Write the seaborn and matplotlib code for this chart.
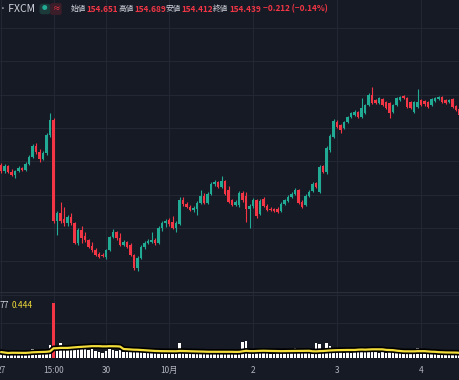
import numpy as np
import pandas as pd
import matplotlib
matplotlib.use("Agg")
import matplotlib.pyplot as plt
from matplotlib import patheffects as pe
import seaborn as sns

# 1時間足 (index 0 = 9/27 00:00, 週末はスキップ)
opens = [
    144.89, 144.71, 144.86, 144.68, 144.59, 144.71, 144.80, 144.74, 144.92, 145.13,
    145.46, 145.28, 145.07, 145.25, 145.79, 146.24, 143.21, 143.45, 143.27, 143.15,
    143.33, 143.15, 142.55, 142.94, 142.76, 142.64, 142.46, 142.34, 142.22, 142.19,
    142.13, 142.34, 142.73, 142.88, 142.70, 142.49, 142.58, 142.49, 142.19, 141.80,
    142.10, 142.43, 142.55, 142.58, 142.64, 142.55, 143.00, 143.15, 143.24, 143.18,
    143.00, 143.12, 143.84, 143.72, 143.63, 143.54, 143.57, 143.75, 143.96, 143.75,
    144.02, 144.32, 144.38, 144.23, 144.41, 144.14, 143.84, 143.69, 143.69, 144.05,
    143.96, 143.57, 143.66, 143.84, 143.42, 143.87, 143.66, 143.57, 143.57, 143.57,
    143.51, 143.72, 143.81, 143.93, 144.02, 144.14, 143.78, 143.69, 143.96, 144.11,
    144.35, 144.08, 144.86, 144.68, 145.34, 145.73, 146.18, 146.09, 146.00, 146.18,
    146.33, 146.39, 146.48, 146.33, 146.45, 146.69, 146.99, 146.84, 146.75, 146.87,
    146.78, 146.75, 146.48, 146.69, 146.84, 146.96, 146.90, 146.78, 146.48, 146.63,
    146.84, 146.81, 146.78, 146.69, 146.81, 146.87, 146.93, 146.84, 146.78, 146.87,
    146.66, 146.57]
highs = [
    144.95, 144.92, 144.89, 144.77, 144.74, 144.86, 144.83, 144.98, 145.19, 145.52,
    145.55, 145.37, 145.31, 145.85, 146.45, 146.30, 143.51, 143.78, 143.63, 143.39,
    143.45, 143.18, 143.00, 143.06, 142.88, 142.67, 142.58, 142.40, 142.28, 142.25,
    142.37, 142.76, 142.97, 142.91, 142.85, 142.64, 142.61, 142.55, 142.22, 142.16,
    142.49, 142.61, 142.67, 142.88, 142.70, 143.06, 143.21, 143.27, 143.30, 143.36,
    143.21, 143.93, 143.93, 143.78, 143.69, 143.66, 143.81, 144.14, 144.05, 144.08,
    144.38, 144.44, 144.41, 144.56, 144.44, 144.26, 143.87, 143.84, 144.11, 144.11,
    144.08, 143.72, 143.90, 143.87, 143.87, 143.93, 143.72, 143.63, 143.60, 143.63,
    143.78, 143.87, 143.99, 144.08, 144.20, 144.17, 143.84, 144.02, 144.14, 144.38,
    144.38, 144.89, 144.89, 145.46, 145.82, 146.27, 146.24, 146.12, 146.21, 146.36,
    146.48, 146.54, 146.51, 146.90, 146.72, 147.05, 147.23, 146.87, 146.93, 146.90,
    146.81, 146.78, 146.72, 146.93, 146.96, 146.99, 146.93, 146.81, 146.81, 147.17,
    146.87, 146.84, 146.81, 146.90, 146.93, 146.96, 146.96, 146.87, 146.87, 146.90,
    146.69, 146.60]
lows = [
    144.65, 144.65, 144.65, 144.56, 144.50, 144.68, 144.71, 144.71, 144.89, 145.10,
    145.22, 144.98, 145.04, 145.19, 145.73, 143.15, 142.79, 143.15, 143.06, 143.06,
    143.09, 142.52, 142.49, 142.55, 142.58, 142.40, 142.28, 142.16, 142.10, 142.13,
    142.07, 142.31, 142.70, 142.64, 142.46, 142.46, 142.40, 142.16, 141.74, 141.71,
    142.07, 142.37, 142.52, 142.55, 142.49, 142.52, 142.91, 143.03, 143.06, 142.97,
    142.88, 143.09, 143.66, 143.60, 143.51, 143.48, 143.39, 143.72, 143.72, 143.72,
    143.99, 144.26, 144.20, 144.20, 143.99, 143.75, 143.66, 143.66, 143.63, 143.78,
    143.18, 143.00, 143.60, 143.30, 143.39, 143.63, 143.51, 143.51, 143.48, 143.45,
    143.48, 143.69, 143.78, 143.90, 143.99, 143.72, 143.60, 143.66, 143.93, 144.08,
    144.20, 144.05, 144.65, 144.62, 145.28, 145.70, 146.00, 145.85, 145.97, 146.15,
    146.30, 146.36, 146.30, 146.30, 146.42, 146.66, 146.72, 146.72, 146.72, 146.66,
    146.57, 146.30, 146.45, 146.66, 146.81, 146.87, 146.60, 146.57, 146.45, 146.60,
    146.66, 146.66, 146.60, 146.66, 146.78, 146.84, 146.75, 146.72, 146.75, 146.60,
    146.51, 146.36]
closes = [
    144.71, 144.86, 144.68, 144.59, 144.71, 144.80, 144.74, 144.92, 145.13, 145.46,
    145.28, 145.07, 145.25, 145.79, 146.24, 143.21, 143.45, 143.21, 143.15, 143.33,
    143.15, 142.55, 142.94, 142.70, 142.64, 142.43, 142.34, 142.19, 142.13, 142.16,
    142.34, 142.73, 142.88, 142.70, 142.49, 142.58, 142.43, 142.19, 141.80, 142.10,
    142.43, 142.55, 142.61, 142.64, 142.55, 143.00, 143.15, 143.21, 143.12, 143.00,
    143.15, 143.84, 143.72, 143.63, 143.54, 143.60, 143.75, 143.96, 143.75, 144.02,
    144.32, 144.38, 144.23, 144.41, 144.02, 143.78, 143.69, 143.78, 144.05, 143.84,
    143.57, 143.66, 143.84, 143.36, 143.81, 143.66, 143.54, 143.54, 143.51, 143.48,
    143.72, 143.84, 143.93, 144.02, 144.14, 143.75, 143.63, 143.96, 144.08, 144.32,
    144.23, 144.83, 144.68, 145.40, 145.76, 146.21, 146.03, 145.94, 146.18, 146.33,
    146.45, 146.48, 146.33, 146.60, 146.69, 146.99, 146.75, 146.75, 146.90, 146.69,
    146.60, 146.45, 146.69, 146.90, 146.93, 146.90, 146.63, 146.60, 146.78, 146.78,
    146.69, 146.72, 146.63, 146.87, 146.90, 146.93, 146.78, 146.75, 146.84, 146.63,
    146.54, 146.39]
volumes = [
    0.44, 0.37, 0.30, 0.44, 0.37, 0.37, 0.30, 0.44, 0.52, 0.67,
    0.52, 0.44, 0.59, 0.67, 0.96, 4.07, 0.89, 1.11, 0.81, 0.67,
    0.89, 0.81, 0.67, 0.81, 0.74, 0.59, 0.67, 0.52, 0.44, 0.37,
    0.52, 0.67, 0.59, 0.52, 0.59, 0.44, 0.52, 0.59, 0.67, 0.59,
    0.52, 0.44, 0.37, 0.44, 0.37, 0.52, 0.44, 0.44, 0.37, 0.44,
    0.44, 1.11, 0.52, 0.37, 0.37, 0.30, 0.44, 0.52, 0.44, 0.37,
    0.52, 0.37, 0.37, 0.44, 0.52, 0.44, 0.37, 0.30, 0.44, 1.19,
    1.26, 0.67, 0.44, 0.67, 0.52, 0.44, 0.37, 0.30, 0.30, 0.37,
    0.37, 0.44, 0.37, 0.44, 0.74, 0.52, 0.44, 0.37, 0.44, 0.52,
    1.11, 1.04, 0.59, 1.11, 0.89, 0.74, 0.52, 0.44, 0.37, 0.44,
    0.37, 0.44, 0.81, 0.67, 0.52, 0.81, 0.67, 0.44, 0.37, 0.44,
    0.37, 0.74, 0.44, 0.37, 0.37, 0.30, 0.44, 0.37, 0.44, 0.74,
    0.44, 0.37, 0.37, 0.30, 0.37, 0.30, 0.37, 0.30, 0.30, 0.37,
    0.30, 0.37]

tick_pos = [0, 15, 30, 48, 72, 96, 120]
tick_labels = ["27", "15:00", "30", "10月", "2", "3", "4"]

header_labels = ["始値", "高値", "安値", "終値"]
header_values = ["154.651", "154.689", "154.412", "154.439"]
header_change = "−0.212 (−0.14%)"

BG = "#161a25"
GRID = "#232733"
UP = "#22ab94"
DOWN = "#f23645"
TXT = "#d1d4dc"

sns.set_theme(style="dark", rc={"figure.facecolor": BG, "axes.facecolor": BG})
plt.rcParams["font.family"] = ["Noto Sans CJK JP", "DejaVu Sans"]

df = pd.DataFrame({"o": opens, "h": highs, "l": lows, "c": closes, "v": volumes})
df["x"] = np.arange(len(df))
df["up"] = df["c"] >= df["o"]
df["ma"] = df["v"].rolling(20, min_periods=1).mean()
col = np.where(df["up"], UP, DOWN)

fig = plt.figure(figsize=(4.6, 3.8), dpi=100)
ax = fig.add_axes([0, 88 / 380, 1, 292 / 380])
axv = fig.add_axes([0, 22 / 380, 1, 66 / 380])

# price pane
ax.vlines(df["x"], df["l"], df["h"], colors=col, lw=0.8, zorder=3)
body = np.maximum((df["c"] - df["o"]).abs(), 0.03)
ax.bar(df["x"], body, bottom=np.minimum(df["o"], df["c"]), width=0.75,
       color=col, linewidth=0, zorder=4)
ax.set_ylim(149.84 - 292 * 0.03, 149.84)
ax.set_yticks(range(142, 150))

# volume pane
vcol = ["#ffffff"] * len(df)
vcol[15] = DOWN
axv.bar(df["x"], df["v"], width=0.7, color=vcol, linewidth=0, zorder=3)
sns.lineplot(x=df["x"], y=df["ma"], ax=axv, color="#f2dc3a", lw=1.6, zorder=5,
             path_effects=[pe.Stroke(linewidth=4, foreground="black"), pe.Normal()])
axv.set_ylim(0, 66 / 13.5)
axv.set_yticks([2.6, 4.65])

for a in (ax, axv):
    a.set_xlim(-0.3, 131.1)
    a.set_xticks(tick_pos)
    a.grid(True, color=GRID, lw=0.8)
    a.set_axisbelow(True)
    a.set_xlabel("")
    a.set_ylabel("")
    a.tick_params(length=0)
    a.set_yticklabels([])
    for s in a.spines.values():
        s.set_visible(False)
ax.set_xticklabels([])
axv.set_xticklabels(tick_labels, color="#b2b5be", fontsize=6)
axv.tick_params(axis="x", pad=6)
axv.axhline(4.89, color="#2a2e39", lw=1)

# header
fy = 1 - 9 / 380
fig.text(0, fy, "· FXCM", color=TXT, fontsize=7.5, va="center")
fig.text(45 / 460, fy, "●", color=UP, fontsize=4, va="center", ha="center",
         bbox=dict(boxstyle="round,pad=0.5", fc="#1d3a3a", ec="none"))
fig.text(56 / 460, fy, "≈", color=DOWN, fontsize=5.5, va="center", ha="center",
         bbox=dict(boxstyle="round,pad=0.25", fc="#3b1e29", ec="none"))
lab_x = [71, 119, 166, 213]
val_x = [86, 134, 181, 229]
for lx, vx, lb, vl in zip(lab_x, val_x, header_labels, header_values):
    fig.text(lx / 460, fy, lb, color=TXT, fontsize=5.5, va="center")
    fig.text(vx / 460, fy, vl, color=DOWN, fontsize=5.9, va="center",
             fontweight="bold")
fig.text(263 / 460, fy, header_change, color=DOWN, fontsize=5.9, va="center",
         fontweight="bold")

# volume legend
fig.text(0, 1 - 305 / 380, "77", color=TXT, fontsize=6, va="center")
fig.text(12 / 460, 1 - 305 / 380, "0.444", color="#f2dc3a", fontsize=6, va="center")

fig.savefig("out.png", dpi=100, facecolor=BG)
